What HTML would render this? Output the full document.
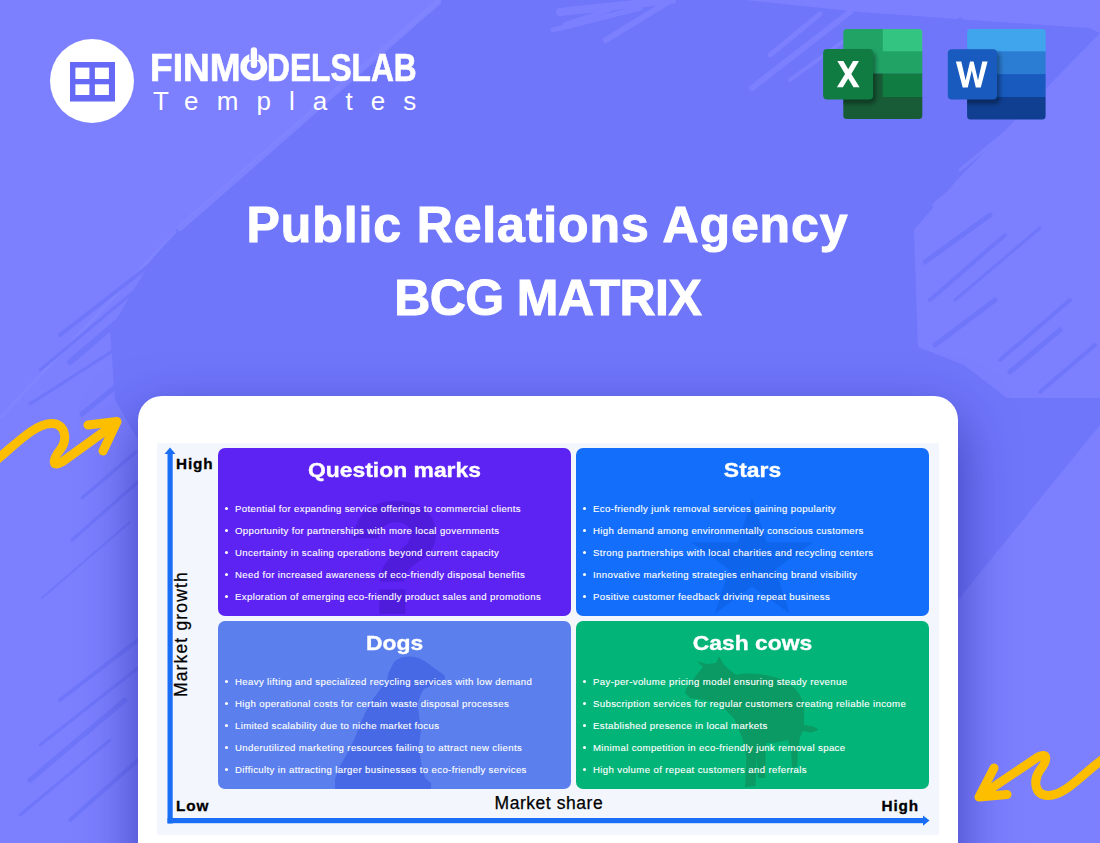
<!DOCTYPE html>
<html><head><meta charset="utf-8">
<style>
*{margin:0;padding:0;box-sizing:border-box}
html,body{width:1100px;height:843px;overflow:hidden}
body{position:relative;background:#7076fa;font-family:"Liberation Sans",sans-serif}
.a{position:absolute;white-space:nowrap}
#bg{position:absolute;left:0;top:0}
.card{position:absolute;left:138px;top:396px;width:820px;height:500px;background:#fff;border-radius:24px;box-shadow:0 22px 56px rgba(25,25,140,.6)}
.panel{position:absolute;left:157px;top:443px;width:782px;height:392px;background:#f3f6fd}
.q{position:absolute;width:353px;height:168px;border-radius:7px;overflow:hidden}
.q h2{position:absolute;left:0;width:100%;text-align:center;color:#fff;font-size:21px;font-weight:700;line-height:21px;top:11px;transform:scaleX(1.09);-webkit-text-stroke:.35px #fff}
.q ul{position:absolute;left:0;top:0;list-style:none}
.q li{position:absolute;left:17px;color:#fff;font-size:9.6px;line-height:10px;letter-spacing:.37px;white-space:nowrap;-webkit-text-stroke:.12px #fff}
.q li:before{content:"";position:absolute;left:-10.5px;top:3.2px;width:3px;height:3px;border-radius:50%;background:#fff}
.wm{position:absolute;left:0;top:0}
.ax{position:absolute;color:#000;font-weight:700;font-size:15.3px;line-height:15px;letter-spacing:.9px;-webkit-text-stroke:.3px #000}
</style></head><body>
<svg id="bg" width="1100" height="843" viewBox="0 0 1100 843">
  <rect width="1100" height="843" fill="#7c80ff"/>
  <polygon points="442,0 745,0 860,12 1000,22 1090,28 1100,33 957,180 914,230 918,347 964,365 1007,398 1100,398 1100,425 958,600 138,600 138,440 115,400 110,330 150,262 175,230" fill="#7076fa"/>
  <path d="M176,231 L0,418" stroke-width="3" stroke="#8286ff" opacity=".7"/>
  <path d="M438,2 L180,228" stroke-width="6" stroke="#8286ff" stroke-linecap="round" opacity=".8"/>
  <g stroke="#7076fa" stroke-linecap="round" fill="none">
    <path d="M150,265 L60,335" stroke-width="4"/>
    <path d="M138,288 L40,370" stroke-width="3"/>
    <path d="M122,318 L70,362" stroke-width="6"/>
    <path d="M114,350 L30,404" stroke-width="3"/>
    <path d="M118,385 L82,414" stroke-width="5"/>
    <path d="M136,452 L82,498" stroke-width="3"/>
    <path d="M138,482 L72,540" stroke-width="3"/>
    <path d="M130,522 L42,598" stroke-width="2"/>
    <path d="M138,640 L60,700" stroke-width="4"/>
    <path d="M138,668 L40,745" stroke-width="3"/>
    <path d="M125,700 L30,780" stroke-width="5"/>
    <path d="M110,740 L20,815" stroke-width="3"/>
    <path d="M138,760 L70,820" stroke-width="4"/>
    <path d="M990,215 L925,262" stroke-width="5"/>
    <path d="M1005,235 L930,300" stroke-width="4"/>
    <path d="M1040,228 L955,300" stroke-width="3"/>
    <path d="M995,300 L935,345" stroke-width="5"/>
    <path d="M1070,300 L1000,360" stroke-width="4"/>
    <path d="M1060,330 L1010,372" stroke-width="5"/>
    <path d="M1095,345 L1040,392" stroke-width="4"/>
    <path d="M700,14 L650,40" stroke-width="4"/>
    <path d="M820,16 L760,50" stroke-width="5"/>
    <path d="M960,20 L900,60" stroke-width="5"/>
    <path d="M1050,30 L1000,70" stroke-width="4"/>
  </g>
  <g stroke="#7c80ff" stroke-linecap="round" fill="none">
    <path d="M668,2 L606,40" stroke-width="6"/>
    <path d="M672,0 L560,12" stroke-width="8"/>
    <path d="M640,8 L553,30" stroke-width="5"/>
    <path d="M610,10 L565,24" stroke-width="4"/>
    <path d="M850,12 L752,88" stroke-width="6"/>
    <path d="M845,40 L790,80" stroke-width="4"/>
    <path d="M820,14 L770,55" stroke-width="5"/>
    <path d="M935,205 L1060,100" stroke-width="5"/>
    <path d="M960,170 L1080,70" stroke-width="3"/>
  </g>
</svg>

<!-- logo -->
<div class="a" style="left:50px;top:39px;width:84px;height:84px;border-radius:50%;background:#fff"></div>
<svg class="a" style="left:0;top:0" width="200" height="140">
  <rect x="70" y="62" width="45" height="39.5" fill="#6569f5"/>
  <rect x="75.4" y="67.6" width="14" height="11.4" fill="#fff"/>
  <rect x="94.9" y="67.6" width="14" height="11.4" fill="#fff"/>
  <rect x="75.4" y="84.3" width="14" height="10.7" fill="#fff"/>
  <rect x="94.9" y="84.3" width="14" height="10.7" fill="#fff"/>
</svg>
<div class="a" id="fml" style="left:150.3px;top:48.6px;color:#fff;font-weight:700;font-size:38px;line-height:38px;-webkit-text-stroke:.7px #fff;transform-origin:0 0;transform:scaleX(.975)">FINM</div>
<div class="a" id="fml2" style="left:267.1px;top:48.6px;color:#fff;font-weight:700;font-size:38px;line-height:38px;-webkit-text-stroke:.7px #fff;transform-origin:0 0;transform:scaleX(.834)">DELSLAB</div>
<svg class="a" style="left:0;top:0" width="300" height="100" fill="none" stroke="#fff">
  <circle cx="253.8" cy="66.9" r="10.25" stroke-width="6.5"/>
  <rect x="249.3" y="50" width="9.2" height="10" fill="#7c80ff" stroke="none"/>
  <line x1="253.9" y1="50.4" x2="253.9" y2="64.9" stroke-width="6.4" stroke-linecap="round"/>
</svg>
<div class="a" id="tpl" style="left:153px;top:88px;color:#fff;font-size:26px;line-height:26px;letter-spacing:18.1px">Templates</div>

<!-- office icons -->
<svg class="a" style="left:0;top:0" width="1100" height="140">
  <defs>
    <clipPath id="xc"><rect x="843.3" y="29.1" width="79" height="90" rx="3.5"/></clipPath>
    <clipPath id="wc"><rect x="967.1" y="29.1" width="78.5" height="90.3" rx="3.5"/></clipPath>
    <filter id="sh" x="-30%" y="-30%" width="160%" height="160%"><feGaussianBlur stdDeviation="2.2"/></filter>
  </defs>
  <g clip-path="url(#xc)">
    <rect x="843" y="29" width="40" height="23" fill="#21a366"/>
    <rect x="882.8" y="29" width="40" height="23" fill="#33c481"/>
    <rect x="843" y="51.3" width="80" height="22.5" fill="#21a366"/>
    <rect x="843" y="73.5" width="40" height="24" fill="#185c37"/>
    <rect x="882.8" y="73.5" width="40" height="24" fill="#107c41"/>
    <rect x="843" y="97" width="80" height="23" fill="#185c37"/>
    <rect x="826" y="52" width="50" height="52" rx="5" fill="#000" opacity=".35" filter="url(#sh)"/>
  </g>
  <rect x="823.1" y="49" width="50" height="50.6" rx="4" fill="#107c41"/>
  <polygon fill="#fff" points="837.3,61.1 843.4,61.1 848.2,69.3 853.0,61.1 859.0,61.1 851.3,73.9 859.6,87.2 853.5,87.2 848.2,78.6 842.9,87.2 836.9,87.2 845.1,73.9"/>
  <g clip-path="url(#wc)">
    <rect x="967" y="29" width="80" height="23" fill="#41a5ee"/>
    <rect x="967" y="51.3" width="80" height="23" fill="#2b7cd3"/>
    <rect x="967" y="74.1" width="80" height="23" fill="#185abd"/>
    <rect x="967" y="97" width="80" height="23" fill="#103f91"/>
    <rect x="950" y="52" width="50" height="52" rx="5" fill="#000" opacity=".35" filter="url(#sh)"/>
  </g>
  <rect x="947.8" y="49.3" width="49.2" height="50.3" rx="4" fill="#185abd"/>
  <polygon fill="#fff" points="955.9,61.5 961.3,61.5 965.6,80.3 970.0,61.5 973.6,61.5 978.0,80.3 982.3,61.5 987.6,61.5 980.8,87.6 975.8,87.6 971.8,70.6 967.8,87.6 962.7,87.6"/>
</svg>



<!-- title -->
<div class="a" id="t1" style="left:-2.5px;letter-spacing:.88px;-webkit-text-stroke:1px #fff;width:1100px;text-align:center;top:200px;color:#fff;font-weight:700;font-size:50px;line-height:50px">Public Relations Agency</div>
<div class="a" id="t2" style="left:-2.3px;letter-spacing:-.61px;-webkit-text-stroke:1px #fff;width:1100px;text-align:center;top:273px;color:#fff;font-weight:700;font-size:50px;line-height:50px">BCG MATRIX</div>

<div class="card"></div>
<div class="panel"></div>

<!-- quadrants -->
<div class="q" style="left:218px;top:448px;background:#5d23f3">
  <div class="a" style="left:130.2px;top:33.3px;font:700 155px/155px 'Liberation Sans';color:#4f1cdc;-webkit-text-stroke:4px #4f1cdc">?</div>
  <h2>Question marks</h2>
  <ul>
    <li style="top:56px">Potential for expanding service offerings to commercial clients</li>
    <li style="top:78px">Opportunity for partnerships with more local governments</li>
    <li style="top:100px">Uncertainty in scaling operations beyond current capacity</li>
    <li style="top:122px">Need for increased awareness of eco-friendly disposal benefits</li>
    <li style="top:144px">Exploration of emerging eco-friendly product sales and promotions</li>
  </ul>
</div>
<div class="q" style="left:576px;top:448px;background:#136ffb">
  <svg class="wm" width="353" height="168" viewBox="576 448 353 168"><polygon fill="#0f64ec" points="752.2,498.3 766.5,542.3 812.8,542.3 775.4,569.5 789.6,613.5 752.2,586.4 714.8,613.5 729.0,569.5 691.6,542.3 737.9,542.3"/></svg>
  <h2>Stars</h2>
  <ul>
    <li style="top:56px">Eco-friendly junk removal services gaining popularity</li>
    <li style="top:78px">High demand among environmentally conscious customers</li>
    <li style="top:100px">Strong partnerships with local charities and recycling centers</li>
    <li style="top:122px">Innovative marketing strategies enhancing brand visibility</li>
    <li style="top:144px">Positive customer feedback driving repeat business</li>
  </ul>
</div>
<div class="q" style="left:218px;top:621px;background:#5b80ee">
  <svg class="wm" width="353" height="168" viewBox="218 621 353 168"><path fill="#4769e6" d="M392,666 C394,660 400,657 408,656.5 C416,656 423,659 429,664 L437,670 L444,675 C446,677 445,680 442,682 L432,685.5 L424,689 L421,694 L417.5,704 L419.5,718 L421,730 L419,745 L421,762 L425,778 L431,783 L431,789 L335,789 L335,779 L340,766 L348,752 L354,740 L359,727 L365,713 L373,699 L381,688 L387,681 L388,674 Z"/></svg>
  <h2>Dogs</h2>
  <ul>
    <li style="top:56px">Heavy lifting and specialized recycling services with low demand</li>
    <li style="top:78px">High operational costs for certain waste disposal processes</li>
    <li style="top:100px">Limited scalability due to niche market focus</li>
    <li style="top:122px">Underutilized marketing resources failing to attract new clients</li>
    <li style="top:144px">Difficulty in attracting larger businesses to eco-friendly services</li>
  </ul>
</div>
<div class="q" style="left:576px;top:621px;background:#03b478">
  <svg class="wm" width="353" height="168" viewBox="576 621 353 168"><path fill="#0b9a63" d="M697,661 L706,664 L716,663 L719,656.6 L724,665 L731.5,671.6 L736.5,675 C748,672 770,674 783,680 C795,686 803,695 804,710 L804,725 L813,726.5 L819,729.7 L811,732.5 L803,731 L800,737 L798,750 L797,767 L792,768 L791,750 L788,740 L773,743 L766,743 L765,778 L758,778 L756.5,754 L755.6,786 L745,787 L746.4,758 L743,740 L735,720 L721.5,705 L705,700 L690,698 L685,693 L686.6,688 L696.6,675 L703,667 Z"/></svg>
  <h2>Cash cows</h2>
  <ul>
    <li style="top:56px">Pay-per-volume pricing model ensuring steady revenue</li>
    <li style="top:78px">Subscription services for regular customers creating reliable income</li>
    <li style="top:100px">Established presence in local markets</li>
    <li style="top:122px">Minimal competition in eco-friendly junk removal space</li>
    <li style="top:144px">High volume of repeat customers and referrals</li>
  </ul>
</div>

<!-- axes -->
<svg class="a" style="left:0;top:0" width="1100" height="843">
  <rect x="167.5" y="453" width="5.2" height="370.5" fill="#1a6ef5"/>
  <polygon points="170,447.5 164.5,454 175.5,454" fill="#1a6ef5"/>
  <rect x="167.5" y="818" width="757" height="5.2" fill="#1a6ef5"/>
  <polygon points="929.5,820.6 923,815.5 923,825.7" fill="#1a6ef5"/>
</svg>
<div class="ax a" style="left:176px;top:456px">High</div>
<div class="ax a" style="left:176px;top:798px">Low</div>
<div class="ax a" style="left:881.5px;top:798px">High</div>
<div class="a" id="ms" style="-webkit-text-stroke:.25px #000;left:494.5px;top:795px;letter-spacing:.55px;font-size:17.5px;line-height:17.5px;color:#000">Market share</div>
<div class="a" id="mg" style="-webkit-text-stroke:.25px #000;left:173px;top:697px;letter-spacing:1.15px;font-size:17.5px;line-height:17.5px;color:#000;transform-origin:0 0;transform:rotate(-90deg)">Market growth</div>

<!-- squiggles -->
<svg class="a" style="left:0;top:0" width="1100" height="843" fill="none" stroke="#fdbe00" stroke-width="9" stroke-linecap="round" stroke-linejoin="round">
  <path d="M-6,462 C14,446 34,424 51,423.5 C66,423 68,440 60,450 C52,460 52,468 62,462 L116,423"/>
  <path d="M88,425 L117,421.5 L103,451"/>
  <path d="M1106,757 C1086,770 1066,796 1048,795.5 C1034,795 1033,780 1040,770 C1048,760 1048,752 1038,757 L980,796"/>
  <path d="M1007,794.5 L979,797 L994,768"/>
</svg>
</body></html>
